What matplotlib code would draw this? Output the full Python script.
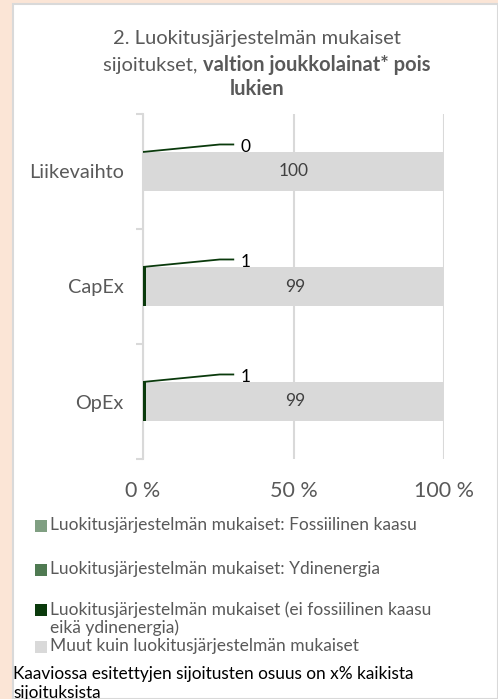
import matplotlib.pyplot as plt
from matplotlib.patches import Rectangle

plt.rcParams['font.family'] = ['Lato', 'DejaVu Sans']

# Data
categories = ['Liikevaihto', 'CapEx', 'OpEx']
fossil_gas = [0, 0, 0]
nuclear = [0, 0, 0]
other_aligned = [0, 1, 1]
not_aligned = [100, 99, 99]
series_labels = [
    'Luokitusjärjestelmän mukaiset: Fossiilinen kaasu',
    'Luokitusjärjestelmän mukaiset: Ydinenergia',
    'Luokitusjärjestelmän mukaiset (ei fossiilinen kaasu\neikä ydinenergia)',
    'Muut kuin luokitusjärjestelmän mukaiset',
]
series_colors = ['#809F82', '#4F7A52', '#0A3A0C', '#D9D9D9']
x_ticks = [0, 50, 100]
x_ticklabels = ['0 %', '50 %', '100 %']

W, H = 498, 699
GRAY = '#595959'


def fx(px):
    return px / W


def fy(py):
    return 1 - py / H


fig = plt.figure(figsize=(W / 100, H / 100), dpi=100, facecolor='#FBE5D6')

# white panel
fig.patches.append(Rectangle((fx(13), 0), 1 - fx(13), fy(4), transform=fig.transFigure,
                             facecolor='white', edgecolor='#D9D9D9', linewidth=1.5, zorder=-5))

ax = fig.add_axes([fx(143), fy(459), fx(444) - fx(143), (459 - 114) / H])
ax.set_facecolor('none')

y = list(range(len(categories)))
left = [0] * len(categories)
bar_h = 0.34
containers = []
for vals, col in zip([fossil_gas, nuclear, other_aligned, not_aligned], series_colors):
    c = ax.barh(y, vals, left=left, height=bar_h, color=col, zorder=2)
    containers.append(c)
    left = [a + b for a, b in zip(left, vals)]

# labels in gray bars
ax.bar_label(containers[3], labels=[str(v) for v in not_aligned], label_type='center',
             color='#404040', fontsize=12.5)

# leader-line labels for the aligned share
for i, v in enumerate(other_aligned):
    top = i - bar_h / 2
    ax.plot([0, 25.5, 30], [top, top - 0.065, top - 0.065], color=series_colors[2],
            linewidth=1.3, zorder=3, solid_joinstyle='round')
    ax.text(34, top - 0.04, str(v), ha='center', va='center', fontsize=12.5, color='black')

ax.set_xlim(0, 100)
ax.set_ylim(len(categories) - 0.5, -0.5)
ax.set_xticks(x_ticks)
ax.set_xticklabels(x_ticklabels)
ax.tick_params(axis='x', length=0, pad=16, labelsize=15.5, labelcolor=GRAY)
ax.set_yticks([i - 0.5 for i in range(len(categories) + 1)])
ax.set_yticklabels([])
ax.set_yticks(y, minor=True)
ax.set_yticklabels(categories, minor=True)
ax.tick_params(axis='y', which='major', length=5, color='#D9D9D9', width=1.5)
ax.tick_params(axis='y', which='minor', length=0, pad=14, labelsize=14.3, labelcolor=GRAY)
ax.grid(axis='x', color='#D9D9D9', linewidth=1.5, zorder=1)
ax.set_axisbelow(True)
for s in ['top', 'right', 'bottom']:
    ax.spines[s].set_visible(False)
ax.spines['left'].set_color('#D9D9D9')
ax.spines['left'].set_linewidth(1.5)
ax.spines['left'].set_zorder(1)

# title, mixed weights
tsize = 14.5
fig.text(fx(257), fy(44), '2. Luokitusjärjestelmän mukaiset', ha='center', va='baseline',
         fontsize=tsize, color=GRAY)
fig.canvas.draw()
r = fig.canvas.get_renderer()
t1 = fig.text(0, fy(71), 'sijoitukset, ', va='baseline', fontsize=tsize, color=GRAY)
t2 = fig.text(0, fy(71), 'valtion joukkolainat* pois', va='baseline', fontsize=tsize,
              color=GRAY, fontweight='bold')
w1 = t1.get_window_extent(r).width
x0 = 103
t1.set_x(fx(x0))
t2.set_x(fx(x0 + w1))
fig.text(fx(257), fy(95), 'lukien', ha='center', va='baseline', fontsize=tsize,
         color=GRAY, fontweight='bold')

# legend
leg_y = [527, 571, 611, 648]
for lab, col, ly in zip(series_labels, series_colors, leg_y):
    fig.patches.append(Rectangle((fx(35), fy(ly + 5)), fx(12), 12 / H, transform=fig.transFigure,
                                 facecolor=col, edgecolor='none'))
    fig.text(fx(50), fy(ly - 10), lab, ha='left', va='top', fontsize=12.5, color=GRAY,
             linespacing=1.15)

# footnote, its second line runs past the bottom edge as in the source
fig.text(fx(13), fy(666), 'Kaaviossa esitettyjen sijoitusten osuus on x% kaikista\nsijoituksista',
         ha='left', va='top', fontsize=12.4, color='black', linespacing=1.2)

fig.savefig('out.png', dpi=100, facecolor=fig.get_facecolor())
